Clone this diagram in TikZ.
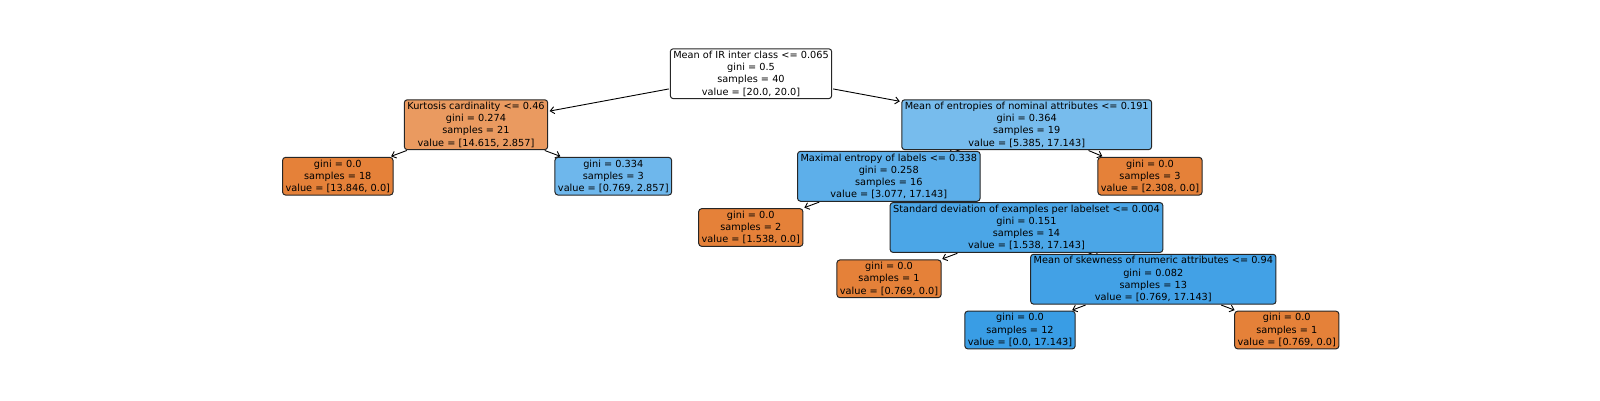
\documentclass[tikz,border=0pt]{standalone}
\usepackage{fontspec}
\setmainfont{DejaVu Sans}
\usetikzlibrary{arrows.meta}
\pgfdeclarelayer{bg}
\pgfsetlayers{bg,main}
\definecolor{cOr}{RGB}{229,129,57}
\definecolor{cBl}{RGB}{57,157,229}
\definecolor{cKur}{RGB}{234,154,96}
\definecolor{cL334}{RGB}{110,183,236}
\definecolor{cEnt}{RGB}{119,188,237}
\definecolor{cMax}{RGB}{93,175,234}
\definecolor{cStd}{RGB}{75,166,231}
\definecolor{cSkw}{RGB}{66,161,230}
\begin{document}
\begin{tikzpicture}[x=1pt,y=-1pt,
  tn/.style={draw=black!85, line width=1pt, rounded corners=3pt, align=center,
    font=\fontsize{9.75}{12.2}\selectfont, inner xsep=3pt, inner ysep=2.3pt},
  edge/.style={draw=black, line width=0.9pt, -{Straight Barb[length=4pt,width=7pt]}, shorten >=1.5pt, shorten <=1pt},
  tight/.style={shorten >=-9pt, shorten <=-3pt}]
\useasboundingbox (0,0) rectangle (1600,400);
\node[tn, fill=white] (root) at (751,73.7) {Mean of IR inter class <= 0.065\\gini = 0.5\\samples = 40\\value = [20.0, 20.0]};
\node[tn, fill=cKur] (kur) at (476,124.7) {Kurtosis cardinality <= 0.46\\gini = 0.274\\samples = 21\\value = [14.615, 2.857]};
\node[tn, fill=cOr] (l1) at (337.8,176.2) {gini = 0.0\\samples = 18\\value = [13.846, 0.0]};
\node[tn, fill=cL334] (l2) at (613.3,176.2) {gini = 0.334\\samples = 3\\value = [0.769, 2.857]};
\node[tn, fill=cEnt] (ent) at (1026.7,124.7) {Mean of entropies of nominal attributes <= 0.191\\gini = 0.364\\samples = 19\\value = [5.385, 17.143]};
\node[tn, fill=cMax] (max) at (888.8,176.3) {Maximal entropy of labels <= 0.338\\gini = 0.258\\samples = 16\\value = [3.077, 17.143]};
\node[tn, fill=cOr] (l3) at (1150,176.2) {gini = 0.0\\samples = 3\\value = [2.308, 0.0]};
\node[tn, fill=cOr] (l4) at (750.8,227.5) {gini = 0.0\\samples = 2\\value = [1.538, 0.0]};
\node[tn, fill=cStd] (std) at (1026.5,227.5) {Standard deviation of examples per labelset <= 0.004\\gini = 0.151\\samples = 14\\value = [1.538, 17.143]};
\node[tn, fill=cOr] (l5) at (889,278.8) {gini = 0.0\\samples = 1\\value = [0.769, 0.0]};
\node[tn, fill=cSkw] (skw) at (1153.3,279.2) {Mean of skewness of numeric attributes <= 0.94\\gini = 0.082\\samples = 13\\value = [0.769, 17.143]};
\node[tn, fill=cBl] (l6) at (1020,330) {gini = 0.0\\samples = 12\\value = [0.0, 17.143]};
\node[tn, fill=cOr] (l7) at (1286.8,330) {gini = 0.0\\samples = 1\\value = [0.769, 0.0]};
\begin{pgfonlayer}{bg}
\draw[edge] (root) -- (kur);
\draw[edge] (root) -- (ent);
\draw[edge] (kur) -- (l1);
\draw[edge] (kur) -- (l2);
\draw[edge, tight] (ent) -- (max);
\draw[edge] (ent) -- (l3);
\draw[edge] (max) -- (l4);
\draw[edge, tight] (max) -- (std);
\draw[edge] (std) -- (l5);
\draw[edge, tight] (std) -- (skw);
\draw[edge] (skw) -- (l6);
\draw[edge] (skw) -- (l7);
\end{pgfonlayer}
\end{tikzpicture}
\end{document}
